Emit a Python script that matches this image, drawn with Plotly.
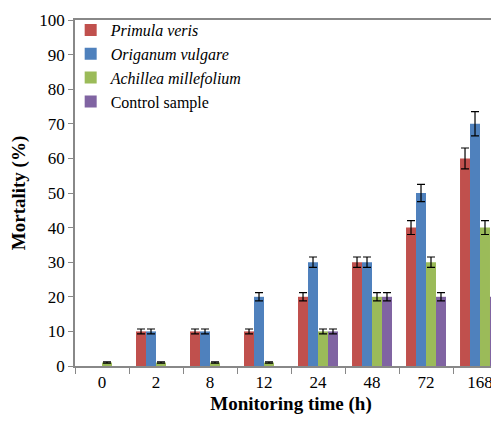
import plotly.graph_objects as go

categories = ["0", "2", "8", "12", "24", "48", "72", "168"]
primula = [0, 10, 10, 10, 20, 30, 40, 60]
primula_err = [0, 0.7, 0.7, 0.7, 1.2, 1.5, 2, 3]
origanum = [0, 10, 10, 20, 30, 30, 50, 70]
origanum_err = [0, 0.7, 0.7, 1.2, 1.5, 1.5, 2.5, 3.5]
achillea = [1, 1, 1, 1, 10, 20, 30, 40]
achillea_err = [0.2, 0.2, 0.2, 0.2, 0.7, 1.2, 1.5, 2]
control = [0, 0, 0, 0, 10, 20, 20, 20]
control_err = [0, 0, 0, 0, 0.7, 1.2, 1.2, 1.2]

series = [
    ("<i>Primula veris</i>", primula, primula_err, "#C0504D"),
    ("<i>Origanum vulgare</i>", origanum, origanum_err, "#4F81BD"),
    ("<i>Achillea millefolium</i>", achillea, achillea_err, "#9BBB59"),
    ("Control sample", control, control_err, "#8064A2"),
]

FONT = "'Times New Roman', Times, 'Liberation Serif', Tinos, 'DejaVu Serif', serif"

fig = go.Figure()
for name, vals, errs, color in series:
    # zero-height bars are not drawn in the reference (no bar, no error cap)
    yv = [v if v > 0 else None for v in vals]
    ev = [e if v > 0 else None for v, e in zip(vals, errs)]
    fig.add_trace(go.Bar(
        x=categories, y=yv, name=name,
        marker=dict(color=color, line=dict(width=0)),
        error_y=dict(type="data", array=ev, visible=True,
                     color="black", thickness=1.2, width=4),
    ))

fig.update_layout(
    width=499, height=422,
    margin=dict(l=67, r=0, t=12, b=64, autoexpand=False),
    paper_bgcolor="white", plot_bgcolor="white",
    barmode="group", bargap=0.26, bargroupgap=0,
    font=dict(family=FONT, size=17, color="black"),
    showlegend=True,
    legend=dict(x=-0.01, y=1.02, xanchor="left", yanchor="top",
                bgcolor="rgba(0,0,0,0)", font=dict(family=FONT, size=16),
                tracegroupgap=0, itemwidth=30),
    xaxis=dict(
        type="category", range=[-0.5, 7.5], automargin=False,
        showline=True, linecolor="#888888", linewidth=1.5, mirror=True,
        ticks="outside", tickson="boundaries", ticklen=6, tickcolor="#888888",
        showgrid=False, tickfont=dict(family=FONT, size=17),
        title=dict(text="<b>Monitoring time (h)</b>", font=dict(family=FONT, size=19), standoff=6),
    ),
    yaxis=dict(
        range=[0, 100], dtick=10, automargin=False,
        showline=True, linecolor="#888888", linewidth=1.5,
        ticks="outside", ticklen=5, tickcolor="#888888",
        showgrid=False, zeroline=False, tickfont=dict(family=FONT, size=17),
        title=dict(text="<b>Mortality (%)</b>", font=dict(family=FONT, size=19), standoff=12),
    ),
)

fig.write_html("out.html")
